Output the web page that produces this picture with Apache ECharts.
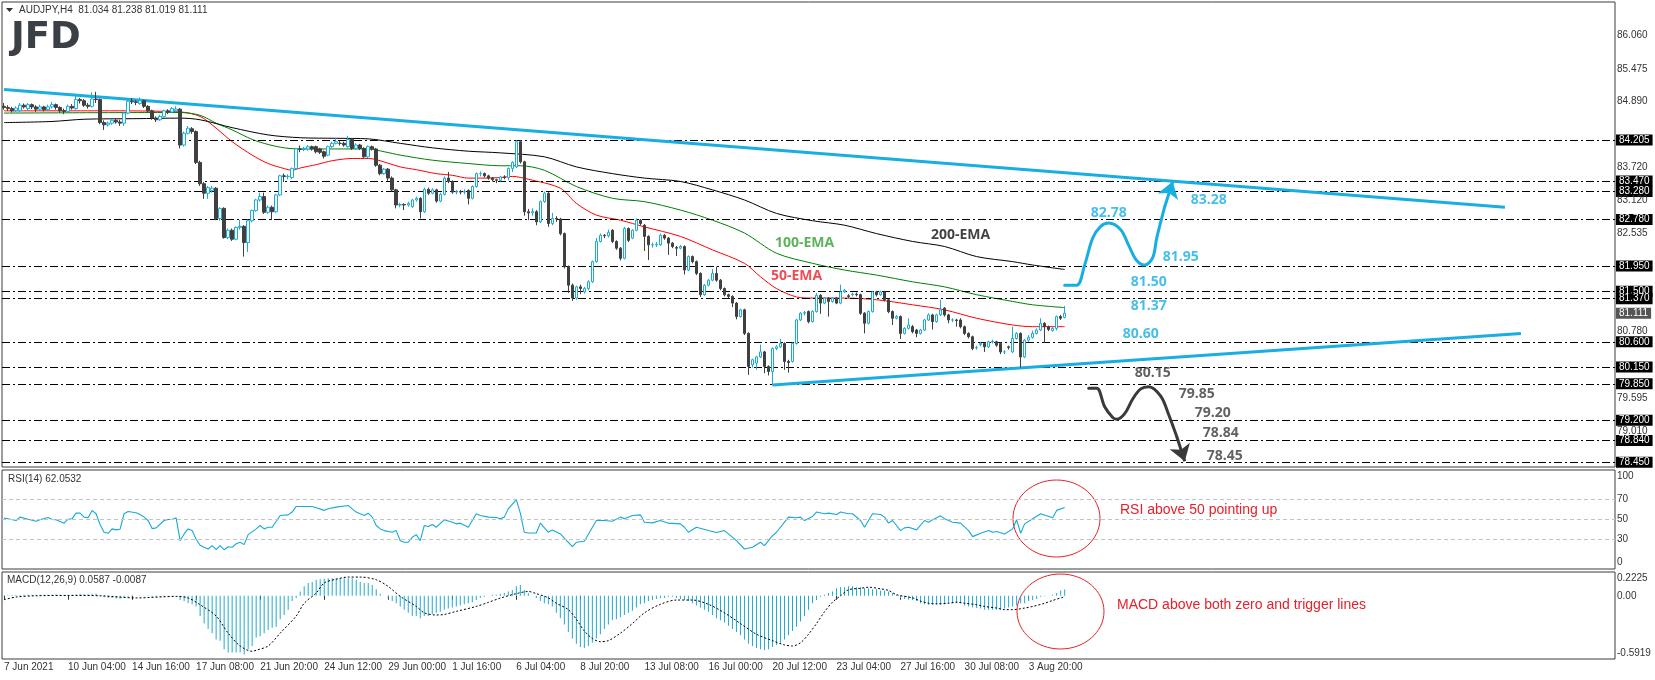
<!DOCTYPE html>
<html><head><meta charset="utf-8">
<script src="https://cdn.jsdelivr.net/npm/echarts@6/dist/echarts.min.js"></script>
<style>html,body{margin:0;padding:0;background:#fff}#c{width:1655px;height:680px}</style>
</head><body><div id="c"></div>
<script>
// ---------- DATA ----------
const tickLabels = ['7 Jun 2021','10 Jun 04:00','14 Jun 16:00','17 Jun 08:00','21 Jun 20:00','24 Jun 12:00','29 Jun 00:00','1 Jul 16:00','6 Jul 04:00','8 Jul 20:00','13 Jul 08:00','16 Jul 00:00','20 Jul 12:00','23 Jul 04:00','27 Jul 16:00','30 Jul 08:00','3 Aug 20:00'];
const opens = [84.80,84.78,84.76,84.72,84.72,84.82,84.76,84.83,84.79,84.75,84.79,84.74,84.79,84.83,84.78,84.72,84.71,84.80,84.76,84.92,
84.90,84.82,84.80,84.93,84.92,84.51,84.47,84.50,84.55,84.52,84.50,84.68,84.89,84.88,84.85,84.90,84.80,84.72,84.59,84.56,
84.62,84.72,84.70,84.72,84.75,84.11,84.32,84.40,84.35,83.80,83.42,83.25,83.30,83.34,82.80,82.98,82.46,82.59,82.43,82.64,
82.66,82.37,82.76,82.94,83.13,83.19,82.91,83.00,82.92,83.22,83.56,83.55,83.53,83.69,84.04,84.03,84.04,84.08,84.08,84.04,
83.99,83.93,84.08,84.14,84.14,84.14,84.08,84.21,84.05,84.11,84.05,83.90,84.08,84.04,83.75,83.60,83.68,83.52,83.31,83.04,
83.05,83.04,83.01,83.13,83.16,82.92,83.32,83.25,83.31,83.11,83.23,83.52,83.46,83.27,83.28,83.27,83.30,83.16,83.37,83.60,
83.60,83.56,83.52,83.49,83.48,83.54,83.53,83.69,83.72,84.17,83.81,82.92,82.90,82.92,82.74,83.10,83.25,82.71,82.80,82.79,
82.53,81.94,81.61,81.38,81.58,81.49,81.55,81.67,82.03,82.39,82.50,82.49,82.59,82.39,82.27,82.09,82.62,82.45,82.59,82.77,
82.68,82.48,82.33,82.33,82.33,82.50,82.45,82.36,82.28,82.27,82.30,81.88,82.12,82.03,81.82,81.44,81.61,81.70,81.82,81.70,
81.55,81.44,81.41,81.29,81.05,81.17,80.75,80.19,80.22,80.33,80.42,80.16,80.07,80.48,80.51,80.57,80.25,80.25,80.57,80.99,
81.11,81.14,80.96,81.14,81.43,81.29,81.38,81.32,81.38,81.29,81.49,81.42,81.44,81.45,81.44,81.11,80.93,81.14,81.49,81.44,
81.49,81.35,81.14,81.02,81.05,80.75,80.84,80.87,80.81,80.75,80.81,80.99,81.08,80.96,81.08,81.20,81.08,80.99,80.99,80.99,
80.87,80.75,80.69,80.49,80.55,80.57,80.51,80.60,80.60,80.57,80.42,80.51,80.42,80.66,80.75,80.33,80.63,80.68,80.75,80.81,
80.93,80.87,80.80,80.84,81.05,81.034];
const closes = [84.78,84.76,84.72,84.77,84.82,84.79,84.83,84.79,84.75,84.79,84.74,84.79,84.83,84.78,84.72,84.71,84.80,84.77,84.92,84.90,
84.82,84.80,84.93,84.92,84.51,84.47,84.50,84.55,84.52,84.50,84.68,84.89,84.88,84.87,84.90,84.80,84.72,84.59,84.56,84.62,
84.72,84.70,84.76,84.75,84.11,84.32,84.41,84.35,83.80,83.42,83.25,83.35,83.34,82.80,82.98,82.46,82.59,82.43,82.64,82.66,
82.37,82.76,82.94,83.13,83.19,82.91,83.00,82.92,83.22,83.56,83.55,83.55,83.69,84.04,84.03,84.05,84.08,84.04,83.99,83.98,
83.91,84.08,84.14,84.17,84.14,84.11,84.21,84.05,84.11,84.05,83.90,84.08,84.04,83.75,83.60,83.68,83.52,83.31,83.04,83.05,
83.04,83.07,83.13,83.16,82.92,83.32,83.25,83.31,83.11,83.23,83.52,83.46,83.27,83.28,83.27,83.28,83.16,83.37,83.60,83.60,
83.56,83.52,83.49,83.48,83.54,83.53,83.69,83.80,84.17,83.81,82.92,82.90,82.92,82.74,83.10,83.25,82.71,82.80,82.79,82.53,
81.94,81.61,81.38,81.58,81.55,81.55,81.67,82.03,82.39,82.50,82.49,82.55,82.39,82.27,82.09,82.62,82.41,82.59,82.77,82.71,
82.48,82.33,82.33,82.34,82.50,82.45,82.36,82.30,82.27,82.30,81.88,82.12,82.03,81.82,81.44,81.61,81.70,81.82,81.70,81.55,
81.44,81.41,81.29,81.05,81.17,80.75,80.16,80.28,80.33,80.42,80.16,80.07,80.48,80.51,80.57,80.25,80.23,80.57,80.99,81.11,
81.12,80.96,81.14,81.43,81.29,81.38,81.32,81.38,81.29,81.49,81.52,81.41,81.45,81.44,81.11,80.93,81.14,81.49,81.44,81.49,
81.35,81.14,81.02,81.05,80.75,80.84,80.90,80.78,80.75,80.81,80.99,81.08,80.96,81.08,81.17,81.08,80.99,80.99,80.98,80.87,
80.75,80.69,80.48,80.50,80.57,80.51,80.60,80.61,80.54,80.42,80.42,80.50,80.66,80.75,80.33,80.63,80.68,80.75,80.81,80.93,
80.87,80.82,80.84,81.05,81.02,81.111];
const lows = [84.74,84.72,84.69,84.70,84.70,84.76,84.73,84.75,84.70,84.72,84.71,84.72,84.76,84.74,84.68,84.66,84.69,84.74,84.74,84.85,
84.79,84.76,84.78,84.86,84.48,84.38,84.44,84.47,84.49,84.45,84.45,84.66,84.84,84.82,84.83,84.77,84.69,84.56,84.52,84.54,
84.60,84.66,84.68,84.70,84.05,84.08,84.30,84.31,83.77,83.38,83.15,83.15,83.26,82.77,82.76,82.44,82.43,82.40,82.41,82.60,
82.12,82.20,82.73,82.92,83.10,82.88,82.88,82.77,82.90,83.20,83.45,83.50,83.50,83.67,83.98,84.00,84.01,84.01,83.96,83.95,
83.87,83.91,84.06,84.12,84.10,84.08,84.06,84.02,84.03,84.02,83.88,83.88,84.01,83.72,83.57,83.58,83.47,83.28,82.98,83.00,
82.95,83.01,82.99,83.10,82.80,82.90,83.22,83.23,83.08,83.09,83.21,83.43,83.24,83.23,83.23,83.23,83.05,83.14,83.35,83.55,
83.53,83.49,83.46,83.43,83.46,83.50,83.48,83.63,83.70,83.78,82.85,82.77,82.85,82.68,82.72,83.08,82.65,82.68,82.74,82.50,
81.91,81.47,81.33,81.35,81.45,81.46,81.52,81.65,82.01,82.37,82.45,82.46,82.36,82.24,82.05,82.07,82.38,82.43,82.57,82.68,
82.22,82.06,82.28,82.29,82.31,82.42,82.15,82.27,82.13,82.25,81.80,81.86,82.00,81.79,81.40,81.42,81.59,81.68,81.67,81.52,
81.41,81.38,81.22,81.00,81.03,80.72,80.01,80.14,80.10,80.31,80.04,80.00,79.83,80.45,80.49,80.10,80.05,80.23,80.55,80.97,
81.07,80.93,80.94,81.12,81.10,81.27,81.05,81.30,81.27,81.27,81.47,81.38,81.41,81.41,81.08,80.75,80.91,81.12,81.41,81.42,
81.32,81.11,80.90,81.00,80.65,80.73,80.82,80.75,80.68,80.73,80.79,80.97,80.82,80.94,81.06,81.05,80.93,80.95,80.87,80.84,
80.72,80.66,80.45,80.46,80.52,80.42,80.49,80.57,80.51,80.38,80.38,80.46,80.40,80.64,80.14,80.31,80.60,80.66,80.73,80.79,
80.58,80.79,80.78,80.80,80.99,81.019];
const highs = [84.86,84.82,84.79,84.80,84.86,84.85,84.86,84.85,84.82,84.83,84.81,84.83,84.88,84.85,84.80,84.76,84.83,84.84,84.99,84.95,
84.93,84.86,85.05,85.06,84.94,84.55,84.53,84.58,84.58,84.56,84.70,84.92,84.95,84.91,84.96,84.92,84.82,84.74,84.62,84.65,
84.74,84.75,84.79,84.80,84.77,84.35,84.45,84.43,84.37,83.83,83.45,83.38,83.38,83.36,83.00,83.00,82.62,82.62,82.66,82.77,
82.68,82.78,82.96,83.15,83.26,83.26,83.03,83.03,83.24,83.58,83.60,83.59,83.71,84.06,84.10,84.08,84.11,84.10,84.10,84.06,
84.01,84.10,84.17,84.24,84.18,84.17,84.27,84.23,84.14,84.13,84.07,84.10,84.10,84.06,83.77,83.70,83.70,83.55,83.33,83.08,
83.07,83.10,83.15,83.19,83.18,83.35,83.35,83.34,83.33,83.26,83.55,83.63,83.48,83.31,83.31,83.32,83.32,83.39,83.62,83.64,
83.62,83.58,83.54,83.51,83.56,83.57,83.71,83.82,84.20,84.20,83.83,82.97,82.98,82.95,83.12,83.28,83.27,82.90,82.84,82.81,
82.55,81.96,81.64,81.60,81.62,81.58,81.70,82.05,82.45,82.53,82.52,82.60,82.61,82.41,82.29,82.65,82.64,82.61,82.80,82.79,
82.70,82.50,82.37,82.38,82.53,82.52,82.47,82.38,82.31,82.33,82.32,82.14,82.14,82.05,81.84,81.63,81.72,81.90,81.94,81.72,
81.57,81.46,81.43,81.31,81.19,81.19,80.77,80.30,80.35,80.55,80.44,80.18,80.50,80.54,80.65,80.59,80.28,80.59,81.01,81.13,
81.15,81.16,81.16,81.47,81.45,81.40,81.40,81.40,81.40,81.62,81.54,81.45,81.48,81.48,81.46,81.13,81.16,81.51,81.51,81.51,
81.51,81.37,81.16,81.08,81.07,80.86,81.02,80.90,80.83,80.83,81.01,81.11,81.10,81.10,81.35,81.22,81.10,81.02,81.01,81.02,
80.89,80.77,80.71,80.53,80.60,80.59,80.62,80.64,80.62,80.59,80.45,80.53,80.87,80.77,80.77,80.65,80.72,80.80,80.84,81.02,
80.95,80.89,80.86,81.07,81.08,81.238];

// EMA lines read at [bar, price]
const ema50 = [[0,84.72],[24,84.72],[44,84.70],[49,84.62],[53,84.41],[57,84.17],[62,83.93],[66,83.78],[70,83.69],[72,83.66],[74,83.70],[78,83.76],[82,83.83],[87,83.87],[91,83.87],[93,83.85],[99,83.72],[103,83.67],[108,83.60],[112,83.57],[116,83.52],[120,83.52],[124,83.53],[127,83.55],[131,83.50],[139,83.34],[143,83.07],[148,82.86],[154,82.77],[160,82.65],[169,82.48],[177,82.24],[185,82.00],[189,81.76],[193,81.55],[198,81.40],[202,81.38],[210,81.38],[218,81.35],[227,81.26],[235,81.17],[243,81.02],[252,80.90],[257,80.87],[265,80.87]];
const ema100 = [[0,84.68],[44,84.69],[49,84.64],[53,84.50],[57,84.38],[62,84.21],[66,84.12],[70,84.06],[74,84.04],[91,84.04],[95,83.99],[99,83.93],[107,83.84],[116,83.78],[124,83.74],[129,83.74],[135,83.66],[143,83.37],[152,83.16],[160,83.10],[169,82.95],[177,82.77],[185,82.54],[193,82.18],[202,82.00],[210,81.88],[218,81.79],[227,81.67],[235,81.58],[243,81.44],[252,81.32],[257,81.26],[265,81.21]];
const ema200 = [[0,84.51],[12,84.53],[20,84.57],[33,84.58],[44,84.59],[49,84.56],[57,84.42],[66,84.29],[74,84.24],[83,84.23],[91,84.22],[99,84.14],[107,84.06],[116,84.00],[124,83.97],[135,83.90],[143,83.72],[152,83.60],[160,83.52],[169,83.46],[177,83.31],[185,83.13],[193,82.89],[202,82.76],[210,82.68],[218,82.53],[227,82.39],[235,82.30],[243,82.12],[252,82.03],[257,81.97],[265,81.89]];

// horizontal levels and right-axis tick labels
const levels = [84.205,83.470,83.280,82.780,81.950,81.500,81.370,80.600,80.150,79.850,79.200,78.840,78.450];
const priceTicks = [86.060,85.475,84.890,83.720,83.120,82.535,80.780,79.595,79.010];
const lastPrice = 81.111;
// trend lines [bar, price]
const upperTrend = [[0,85.10],[375,83.00]];
const lowerTrend = [[192,79.83],[379,80.75]];
// scenario paths
const bullPath = [[265,81.61],[268,81.61],[270,81.97],[272,82.45],[274,82.66],[276,82.72],[279,82.60],[281,82.32],[283,82.05],[285,81.97],[287,82.10],[288,82.45],[290,83.01]];
const bullArrow = [[290,83.01],[292,83.46]];
const bearPath = [[271,79.77],[273,79.77],[275,79.44],[277,79.25],[278,79.22],[280,79.32],[282,79.58],[284,79.76],[286,79.80],[289,79.63],[291,79.30],[293,78.91]];
const bearArrow = [[293,78.91],[295,78.47]];
const bullLabels = ['83.28','82.78','81.95','81.50','81.37','80.60'];
const bullLabelPos = [[301,83.13],[276,82.90],[294,82.12],[286,81.67],[286,81.24],[284,80.745]];
const bearLabels = ['80.15','79.85','79.20','78.84','78.45'];
const bearLabelPos = [[287,80.04],[298,79.67],[302,79.33],[304,78.98],[305,78.56]];
const emaLabels = ['200-EMA','100-EMA','50-EMA'];
const emaLabelPos = [[239,82.505],[200,82.36],[198,81.77]];

// RSI(14) read at [bar, value]
const rsiPts = [[0,51.4],[1,50.7],[3,49.0],[4,52.4],[6,50.3],[8,48.3],[9,49.7],[11,52.0],[12,50.0],[13,49.7],[15,46.3],[16,50.3],[17,50.7],[18,56.4],[19,56.4],[20,52.4],[21,51.7],[22,59.2],[23,55.8],[24,45.0],[25,37.1],[26,36.1],[27,40.5],[28,39.5],[29,40.2],[30,55.8],[31,58.1],[33,56.8],[34,55.1],[35,52.4],[36,49.0],[37,40.8],[38,41.5],[40,49.0],[41,50.0],[42,50.0],[43,51.7],[44,28.6],[45,35.4],[46,40.5],[47,38.8],[48,30.0],[49,24.0],[50,21.9],[51,20.2],[52,23.6],[53,19.5],[54,23.6],[55,19.5],[56,22.5],[57,21.9],[58,25.5],[59,27.0],[60,24.6],[61,34.7],[63,40.5],[64,43.9],[65,40.5],[66,42.2],[67,42.2],[69,54.1],[71,54.7],[72,57.5],[73,63.2],[75,63.2],[77,63.2],[78,61.9],[80,59.2],[81,60.8],[83,62.5],[86,64.2],[87,60.8],[88,57.5],[89,55.8],[90,54.1],[91,56.4],[92,52.4],[93,43.9],[94,40.5],[95,38.8],[97,37.1],[98,38.8],[99,28.6],[100,27.0],[101,27.0],[102,32.0],[103,34.7],[104,28.6],[105,43.9],[106,42.9],[107,44.9],[108,42.2],[110,49.7],[112,47.3],[113,45.6],[114,46.3],[116,42.2],[118,55.8],[119,54.1],[121,52.4],[123,52.0],[124,50.7],[125,52.4],[126,60.8],[128,70.0],[129,56.4],[130,37.1],[131,36.4],[133,36.4],[134,46.3],[136,37.1],[137,39.5],[139,35.4],[142,22.5],[143,27.0],[145,28.0],[148,49.0],[150,49.0],[152,48.3],[154,52.4],[155,50.7],[157,54.1],[159,54.7],[160,47.3],[162,46.6],[164,49.0],[166,46.3],[169,45.6],[170,42.2],[171,37.1],[173,42.2],[176,38.8],[178,36.8],[180,38.8],[181,35.4],[183,28.6],[185,20.2],[187,21.9],[189,27.0],[190,23.6],[192,33.7],[193,37.1],[196,52.4],[198,51.7],[199,52.4],[200,49.0],[202,53.1],[203,57.5],[205,55.8],[206,56.4],[208,55.1],[209,57.5],[211,55.8],[212,55.8],[214,49.0],[215,42.2],[216,49.0],[217,55.8],[219,55.1],[220,52.4],[221,46.3],[222,49.0],[224,38.8],[225,41.5],[226,42.2],[228,39.5],[230,49.0],[231,47.3],[232,49.7],[234,53.7],[235,50.7],[237,47.3],[239,46.3],[241,38.8],[242,32.7],[244,36.1],[246,38.8],[247,37.1],[248,37.8],[250,35.4],[252,40.5],[253,49.7],[254,36.1],[255,45.6],[257,50.7],[259,55.8],[262,51.7],[263,59.2],[265,62.05]];
const rsiLevels = [70,50,30];
const rsiEdgeLabels = ['100','0'];

// MACD(12,26,9) histogram per bar, and signal line at [bar, value]
const macdHist = [0.005,0.006,0.007,0.008,0.008,0.009,0.01,0.01,0.01,0.01,0.009,0.01,0.012,0.012,0.01,0.008,0.008,0.01,0.015,0.018,0.016,0.014,0.02,0.022,
-0.005,-0.015,-0.02,-0.022,-0.025,-0.028,-0.022,-0.01,-0.005,0,0.004,0.003,-0.002,-0.01,-0.012,-0.01,-0.006,-0.004,-0.002,0,
-0.04,-0.05,-0.07,-0.08,-0.1,-0.19,-0.26,-0.31,-0.35,-0.41,-0.42,-0.5,-0.53,-0.53,-0.53,-0.53,-0.55,
-0.5,-0.47,-0.39,-0.38,-0.35,-0.32,-0.3,-0.29,-0.22,-0.18,-0.13,-0.05,-0.02,0.04,0.09,0.12,0.13,0.15,0.155,0.16,
0.165,0.165,0.165,0.165,0.165,0.165,0.165,0.15,0.13,0.12,0.12,0.1,0.06,0.02,0,-0.02,-0.05,-0.07,-0.1,-0.13,
-0.16,-0.19,-0.19,-0.21,-0.19,-0.19,-0.17,-0.16,-0.15,-0.13,-0.12,-0.11,-0.1,-0.09,-0.08,-0.07,-0.06,-0.04,-0.02,-0.01,
0,0.01,0.01,0.02,0.025,0.04,0.055,0.09,0.1,0.055,0.025,0,-0.02,-0.05,-0.07,-0.08,-0.1,-0.16,-0.21,-0.27,
-0.34,-0.4,-0.45,-0.48,-0.49,-0.47,-0.44,-0.4,-0.36,-0.31,-0.27,-0.23,-0.22,-0.2,-0.18,-0.16,-0.14,-0.11,-0.08,-0.07,
-0.05,-0.04,-0.03,-0.02,-0.02,-0.01,-0.01,-0.02,-0.03,-0.04,-0.05,-0.07,-0.09,-0.11,-0.13,-0.15,-0.18,-0.21,-0.23,-0.25,
-0.28,-0.31,-0.34,-0.37,-0.41,-0.45,-0.47,-0.49,-0.5,-0.51,-0.5,-0.48,-0.46,-0.44,-0.41,-0.37,-0.33,-0.29,-0.24,-0.19,
-0.13,-0.07,-0.04,-0.01,0.01,0.025,0.04,0.07,0.08,0.08,0.09,0.09,0.08,0.08,0.07,0.07,0.06,0.06,0.05,0.05,
0.04,0.025,0.01,-0.02,-0.03,-0.035,-0.04,-0.05,-0.07,-0.08,-0.085,-0.085,-0.085,-0.085,-0.08,-0.07,-0.07,-0.07,-0.07,-0.09,
-0.1,-0.11,-0.115,-0.12,-0.13,-0.13,-0.13,-0.13,-0.13,-0.12,-0.11,-0.1,-0.09,-0.07,-0.07,-0.05,-0.04,-0.03,-0.01,-0.005,
0,0.01,0.025,0.05,0.0587];
const macdSignal = [[0,-0.037],[3,-0.012],[8,0],[16,0.003],[24,0],[33,-0.02],[43,-0.006],[46,-0.02],[49,-0.084],[53,-0.19],[56,-0.35],[59,-0.47],[62,-0.52],[63,-0.51],[66,-0.47],[69,-0.35],[73,-0.19],[75,-0.07],[78,0.025],[80,0.12],[83,0.155],[86,0.175],[89,0.175],[93,0.15],[96,0.087],[99,-0.006],[103,-0.1],[105,-0.16],[108,-0.18],[110,-0.175],[113,-0.146],[118,-0.1],[121,-0.062],[124,-0.022],[128,0.02],[131,0.04],[133,0.02],[136,-0.02],[138,-0.07],[141,-0.13],[143,-0.22],[145,-0.33],[147,-0.40],[149,-0.43],[151,-0.42],[154,-0.35],[157,-0.26],[160,-0.16],[164,-0.08],[168,-0.04],[172,-0.04],[176,-0.08],[180,-0.16],[184,-0.26],[188,-0.36],[192,-0.42],[195,-0.46],[197,-0.47],[199,-0.44],[201,-0.36],[203,-0.26],[205,-0.15],[207,-0.06],[209,0],[211,0.056],[214,0.07],[216,0.08],[219,0.065],[221,0.05],[223,0.01],[227,-0.02],[229,-0.05],[231,-0.07],[233,-0.075],[236,-0.07],[238,-0.06],[240,-0.07],[243,-0.084],[245,-0.1],[248,-0.115],[250,-0.13],[252,-0.13],[255,-0.115],[257,-0.1],[260,-0.07],[262,-0.044],[265,-0.0087]];
const macdTicks = [0.2225,0.00,-0.5919];

// ---------- CHART ----------
const N = 403;                     // slots on the time axis (bars + right-hand free space)
const cats = Array.from({length:N},(_,i)=>String(i));
const FONT = '"Liberation Sans", Arial, sans-serif';
const BOLD = '"Open Sans", "Liberation Sans", sans-serif';
const BLUE = '#18aee2';
const DARK = '#3a3a3a';
const NOLINE = {color:'rgba(0,0,0,0)',width:0};
const candles = closes.map((c,i)=>[opens[i],c,lows[i],highs[i]]);

const axLbl = (txt, o) => Object.assign({show:true,position:'end',distance:2,formatter:txt,color:'#333',fontSize:10,fontFamily:FONT}, o||{});
const mainMarks = [];
levels.forEach(v=>mainMarks.push({yAxis:v,lineStyle:{color:'#000',type:[8,3,2,3],width:1},
  label:axLbl(v.toFixed(3),{color:'#fff',backgroundColor:'#000',padding:[1,3,0,3],distance:1})}));
priceTicks.forEach(v=>mainMarks.push({yAxis:v,lineStyle:NOLINE,label:axLbl(v.toFixed(3))}));
mainMarks.push({yAxis:lastPrice,lineStyle:NOLINE,label:axLbl(lastPrice.toFixed(3),{color:'#fff',backgroundColor:'#555',padding:[1,3,0,3],distance:1})});
[upperTrend,lowerTrend].forEach(t=>mainMarks.push([
  {coord:t[0],lineStyle:{color:BLUE,width:3,type:'solid'},label:{show:false}},
  {coord:t[1],lineStyle:{color:BLUE,width:3,type:'solid'},label:{show:false}}]));

// RSI pane: 70/50/30 dashed levels; the 100 and 0 edge labels sit just inside the pane (as MT4 draws them)
const rsiMarks = rsiLevels.map(v=>({yAxis:v,lineStyle:{color:'#c4c4c4',type:[4,3],width:1},label:axLbl(String(v))}));
rsiMarks.push({yAxis:94,lineStyle:NOLINE,label:axLbl(rsiEdgeLabels[0])});
rsiMarks.push({yAxis:7,lineStyle:NOLINE,label:axLbl(rsiEdgeLabels[1])});
const macdMarks = [
  {yAxis:macdTicks[0],lineStyle:NOLINE,label:axLbl(macdTicks[0].toFixed(4),{offset:[0,6]})},
  {yAxis:macdTicks[1],lineStyle:NOLINE,label:axLbl(macdTicks[1].toFixed(2))},
  {yAxis:macdTicks[2],lineStyle:NOLINE,label:axLbl(macdTicks[2].toFixed(4),{offset:[0,-6]})}];

const labelSeries = (names, pos, color, colors) => ({
  type:'scatter', xAxisIndex:0, yAxisIndex:0, symbol:'circle', symbolSize:1, silent:true,
  itemStyle:{color:'rgba(0,0,0,0)'}, z:10,
  data:names.map((n,i)=>({name:n,value:pos[i],label:{color:colors?colors[i]:color}})),
  label:{show:true,position:'inside',formatter:'{b}',fontFamily:BOLD,fontWeight:'bold',fontSize:14}
});
const pathSeries = (pts, arrow, color) => ({
  type:'line', xAxisIndex:0, yAxisIndex:0, data:pts, smooth:0.35, symbol:'none', silent:true, z:9,
  lineStyle:{color:color,width:3,cap:'round'},
  markLine:{silent:true,symbol:['none','arrow'],symbolSize:16,animation:false,
    data:[[{coord:arrow[0],lineStyle:{color:color,width:3,type:'solid'},itemStyle:{color:color},label:{show:false}},
           {coord:arrow[1],lineStyle:{color:color,width:3,type:'solid'},itemStyle:{color:color},label:{show:false}}]]}
});
const emaSeries = (pts,color)=>({type:'line',xAxisIndex:0,yAxisIndex:0,data:pts,smooth:0.3,symbol:'none',silent:true,lineStyle:{color:color,width:1},z:4});
const tickInt = (i)=> i%16===0 && i/16 < tickLabels.length;
const gridBase = {left:2,right:40,show:true,borderColor:'#3c3c3c',borderWidth:1,backgroundColor:'#fff'};

const option = {
  animation:false,
  grid:[Object.assign({top:2,height:465},gridBase),Object.assign({top:470,height:99},gridBase),Object.assign({top:572,height:87},gridBase)],
  xAxis:[0,1,2].map(k=>({type:'category',gridIndex:k,data:cats,boundaryGap:true,
    axisLine:{show:false},splitLine:{show:false},
    axisTick:{show:k===2,alignWithLabel:true,interval:tickInt,length:4,lineStyle:{color:'#333'}},
    axisLabel:{show:k===2,interval:tickInt,formatter:(v,i)=>tickLabels[i/16]||'',align:'left',margin:3,fontSize:10,color:'#333',fontFamily:FONT}})),
  yAxis:[{gridIndex:0,type:'value',min:78.367,max:86.661,show:false,splitLine:{show:false}},
         {gridIndex:1,type:'value',min:0,max:100,show:false,splitLine:{show:false}},
         {gridIndex:2,type:'value',min:-0.5919,max:0.2225,show:false,splitLine:{show:false}}],
  series:[
    {type:'candlestick',xAxisIndex:0,yAxisIndex:0,data:candles,barWidth:3,z:5,
     itemStyle:{color:'#ffffff',color0:'#404040',borderColor:'#19acd9',borderColor0:'#404040',borderWidth:1},
     markLine:{silent:true,symbol:'none',animation:false,data:mainMarks}},
    emaSeries(ema50,'#ff0000'), emaSeries(ema100,'#008000'), emaSeries(ema200,'#000000'),
    pathSeries(bullPath,bullArrow,BLUE), pathSeries(bearPath,bearArrow,DARK),
    labelSeries(bullLabels,bullLabelPos,BLUE),
    labelSeries(bearLabels,bearLabelPos,DARK),
    labelSeries(emaLabels,emaLabelPos,null,['#111111','#35a035','#e8202a']),
    {type:'line',xAxisIndex:1,yAxisIndex:1,data:rsiPts,symbol:'none',silent:true,lineStyle:{color:'#16a9da',width:1.1},
     markLine:{silent:true,symbol:'none',animation:false,data:rsiMarks}},
    {type:'bar',xAxisIndex:2,yAxisIndex:2,data:macdHist,barWidth:1,silent:true,itemStyle:{color:'#1fa9d0'},
     markLine:{silent:true,symbol:'none',animation:false,data:macdMarks}},
    {type:'line',xAxisIndex:2,yAxisIndex:2,data:macdSignal,symbol:'none',silent:true,smooth:0.3,lineStyle:{color:'#000',width:1,type:[2,2]}}
  ],
  graphic:[
    {type:'polygon',shape:{points:[[6,8],[13,8],[9.5,12]]},style:{fill:'#333'},silent:true},
    {type:'text',left:19,top:5,style:{text:'AUDJPY,H4  81.034 81.238 81.019 81.111',fill:'#333',font:'10px '+FONT},silent:true},
    {type:'text',left:11,top:20,style:{text:'JFD',fill:'#3b3f46',font:'bold 37px "DejaVu Sans", sans-serif'},silent:true},
    {type:'text',left:8,top:474,style:{text:'RSI(14) 62.0532',fill:'#333',font:'10px '+FONT},silent:true},
    {type:'text',left:7,top:575,style:{text:'MACD(12,26,9) 0.0587 -0.0087',fill:'#333',font:'10px '+FONT},silent:true},
    {type:'ellipse',shape:{cx:1056.5,cy:518.5,rx:43.5,ry:38.5},style:{fill:'none',stroke:'#e8202a',lineWidth:1},silent:true},
    {type:'ellipse',shape:{cx:1060.5,cy:611.5,rx:43.5,ry:37.5},style:{fill:'none',stroke:'#e8202a',lineWidth:1},silent:true},
    {type:'text',left:1120,top:503,style:{text:'RSI above 50 pointing up',fill:'#e8202a',font:'14px '+FONT},silent:true},
    {type:'text',left:1117,top:598,style:{text:'MACD above both zero and trigger lines',fill:'#e8202a',font:'14px '+FONT},silent:true}
  ]
};
const chart = echarts.init(document.getElementById('c'),null,{renderer:'canvas'});
chart.setOption(option);
</script>
</body></html>
